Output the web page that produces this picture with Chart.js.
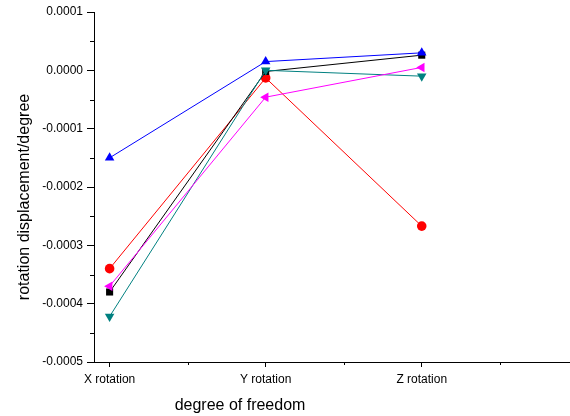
<!DOCTYPE html>
<html>
<head>
<meta charset="UTF-8">
<title>rotation displacement</title>
<script src="https://cdn.jsdelivr.net/npm/chart.js"></script>
<style>
	body { margin: 0; background: #fff; }
</style>
</head>
<body>
	<canvas id="lineChart" width="570" height="416"></canvas>

	<script>
		// 데이터
		const categories = ['X rotation', 'Y rotation', 'Z rotation'];
		const blackData   = [-0.00038, -0.000002, 0.000026];
		const redData     = [-0.00034, -0.000013, -0.000267];
		const blueData    = [-0.00015, 0.000015, 0.00003];
		const tealData    = [-0.000422, 0.0000, -0.00001];
		const magentaData = [-0.00037, -0.000046, 0.000005];
		const yTicks = [-0.0005, -0.0004, -0.0003, -0.0002, -0.0001, 0.0000, 0.0001];
		const yMinor = [-0.00045, -0.00035, -0.00025, -0.00015, -0.00005, 0.00005];
		const xTicks = [1, 2, 3];
		const xMinor = [1.5, 2.5, 3.5];

		const FONT = '"Liberation Sans", Arial, sans-serif';

		function toPoints(arr){
			return arr.map(function(v, i){ return { x: i + 1, y: v }; });
		}

		// order: 숫자가 작을수록 위에 그려짐
		function makeSet(label, data, color, style, rotation, radius, order){
			return {
				label: label,
				data: toPoints(data),
				borderColor: color,
				backgroundColor: color,
				borderWidth: 1,
				pointStyle: style,
				rotation: rotation,
				pointRadius: radius,
				pointBorderWidth: 0,
				tension: 0,
				order: order
			};
		}

		// 보조 눈금 + 축 제목
		const extras = {
			id: 'extras',
			afterDraw: function(chart){
				const ctx = chart.ctx;
				const xs = chart.scales.x;
				const ys = chart.scales.y;
				const area = chart.chartArea;
				ctx.save();
				ctx.strokeStyle = '#000';
				ctx.lineWidth = 1;
				ctx.beginPath();
				yMinor.forEach(function(v){
					const py = Math.round(ys.getPixelForValue(v)) + 0.5;
					ctx.moveTo(area.left - 4, py);
					ctx.lineTo(area.left, py);
				});
				xMinor.forEach(function(v){
					const px = Math.round(xs.getPixelForValue(v)) + 0.5;
					ctx.moveTo(px, area.bottom);
					ctx.lineTo(px, area.bottom + 3);
				});
				ctx.stroke();

				ctx.fillStyle = '#000';
				ctx.font = '16px ' + FONT;
				ctx.textAlign = 'center';
				ctx.textBaseline = 'middle';
				ctx.fillText('degree of freedom', area.left + 146, 406);

				ctx.translate(25, 197);
				ctx.rotate(-Math.PI / 2);
				ctx.fillText('rotation displacement/degree', 0, 0);
				ctx.restore();
			}
		};

		const ctx = document.getElementById('lineChart').getContext('2d');
		const lineChart = new Chart(ctx, {
			type: 'line',
			data: {
				datasets: [
					makeSet('black', blackData, '#000000', 'rect', 0, 5, 4),
					makeSet('red', redData, '#ff0000', 'circle', 0, 4.8, 5),
					makeSet('blue', blueData, '#0000ff', 'triangle', 0, 5.5, 1),
					makeSet('teal', tealData, '#008080', 'triangle', 180, 5.5, 3),
					makeSet('magenta', magentaData, '#ff00ff', 'triangle', -90, 5.5, 2)
				]
			},
			options: {
				responsive: false,
				animation: false,
				layout: {
					autoPadding: false,
					padding: { left: 0, top: 12, right: 0, bottom: 0 }
				},
				plugins: {
					legend: { display: false },
					tooltip: { enabled: false }
				},
				scales: {
					x: {
						type: 'linear',
						min: 0.9,
						max: 3.95,
						afterBuildTicks: function(scale){
							scale.ticks = xTicks.map(function(v){ return { value: v }; });
						},
						afterFit: function(scale){
							scale.height = 54;
							scale.paddingLeft = 0;
							scale.paddingRight = 0;
						},
						ticks: {
							color: '#000',
							font: { family: FONT, size: 12 },
							padding: 5,
							maxRotation: 0,
							callback: function(v){ return categories[v - 1]; }
						},
						grid: {
							drawOnChartArea: false,
							tickLength: 5,
							tickColor: '#000'
						},
						border: { color: '#000', width: 1 }
					},
					y: {
						min: -0.0005,
						max: 0.0001,
						afterBuildTicks: function(scale){
							scale.ticks = yTicks.map(function(v){ return { value: v }; });
						},
						afterFit: function(scale){
							scale.width = 94;
							scale.paddingTop = 0;
							scale.paddingBottom = 0;
						},
						ticks: {
							color: '#000',
							font: { family: FONT, size: 12 },
							padding: 4,
							callback: function(v){ return Number(v).toFixed(4); }
						},
						grid: {
							drawOnChartArea: false,
							tickLength: 7,
							tickColor: '#000'
						},
						border: { color: '#000', width: 1 }
					}
				}
			},
			plugins: [extras]
		});
	</script>
</body>
</html>
